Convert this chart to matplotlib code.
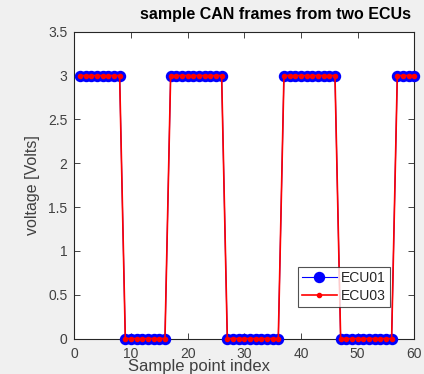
import matplotlib
matplotlib.use("Agg")
import matplotlib.pyplot as plt
import numpy as np

plt.rcParams['font.family'] = ['Liberation Sans', 'DejaVu Sans']

# Data
sample_index = list(range(1, 61))
levels = ([3] * 8 + [0] * 8 + [3] * 10 + [0] * 10 +
          [3] * 10 + [0] * 10 + [3] * 4)
ecu01 = levels
ecu03 = levels
x_ticks = [0, 10, 20, 30, 40, 50, 60]
y_ticks = [0, 0.5, 1, 1.5, 2, 2.5, 3, 3.5]

W, H = 424, 374
fig = plt.figure(figsize=(W / 100, H / 100), dpi=100, facecolor='#f0f0f0')
ax = fig.add_axes([74.3 / W, 1 - 338.5 / H, (414.3 - 74.3) / W, (338.5 - 31.7) / H])
ax.set_facecolor('white')

ax.plot(sample_index, ecu01, color='blue', lw=0.8, marker='o', markersize=7.2,
        markerfacecolor='blue', markeredgecolor='blue', clip_on=False, label='ECU01', zorder=3)
ax.plot(sample_index, ecu03, color='red', lw=1.2, marker='o', markersize=3.0,
        markerfacecolor='red', markeredgecolor='red', clip_on=False, label='ECU03', zorder=4)

ax.set_xlim(0, 60)
ax.set_ylim(0, 3.5)
ax.set_xticks(x_ticks)
ax.set_yticks(y_ticks)
ax.set_yticklabels(['0', '0.5', '1', '1.5', '2', '2.5', '3', '3.5'])
gray = '#262626'
for s in ax.spines.values():
    s.set_color(gray)
    s.set_linewidth(0.8)
ax.tick_params(direction='in', length=4, width=0.6, colors=gray, labelsize=10,
               top=True, right=True, labelcolor='#404040')
ax.tick_params(axis='x', pad=6)
ax.tick_params(axis='y', pad=5)

fig.text(275 / W, 1 - 15 / H, 'sample CAN frames from two ECUs', ha='center', va='center',
         fontsize=11.5, fontweight='bold', color='black')
ax.set_ylabel('voltage [Volts]', fontsize=11.5, color='#404040', labelpad=6)
fig.text(199 / W, 1 - 359 / H, 'Sample point index', ha='center', va='top',
         fontsize=12, color='#404040')

leg = ax.legend(loc='lower right', bbox_to_anchor=((390 - 74.3) / 340, (338.5 - 307.3) / 306.8),
                frameon=True, fancybox=False, fontsize=10, handlelength=2.5,
                borderpad=0.3, labelspacing=0.3, handletextpad=0.3, borderaxespad=0)
leg.get_frame().set_edgecolor(gray)
leg.get_frame().set_linewidth(0.8)
for t in leg.get_texts():
    t.set_color('#262626')

fig.savefig('out.png', dpi=100, facecolor=fig.get_facecolor())
